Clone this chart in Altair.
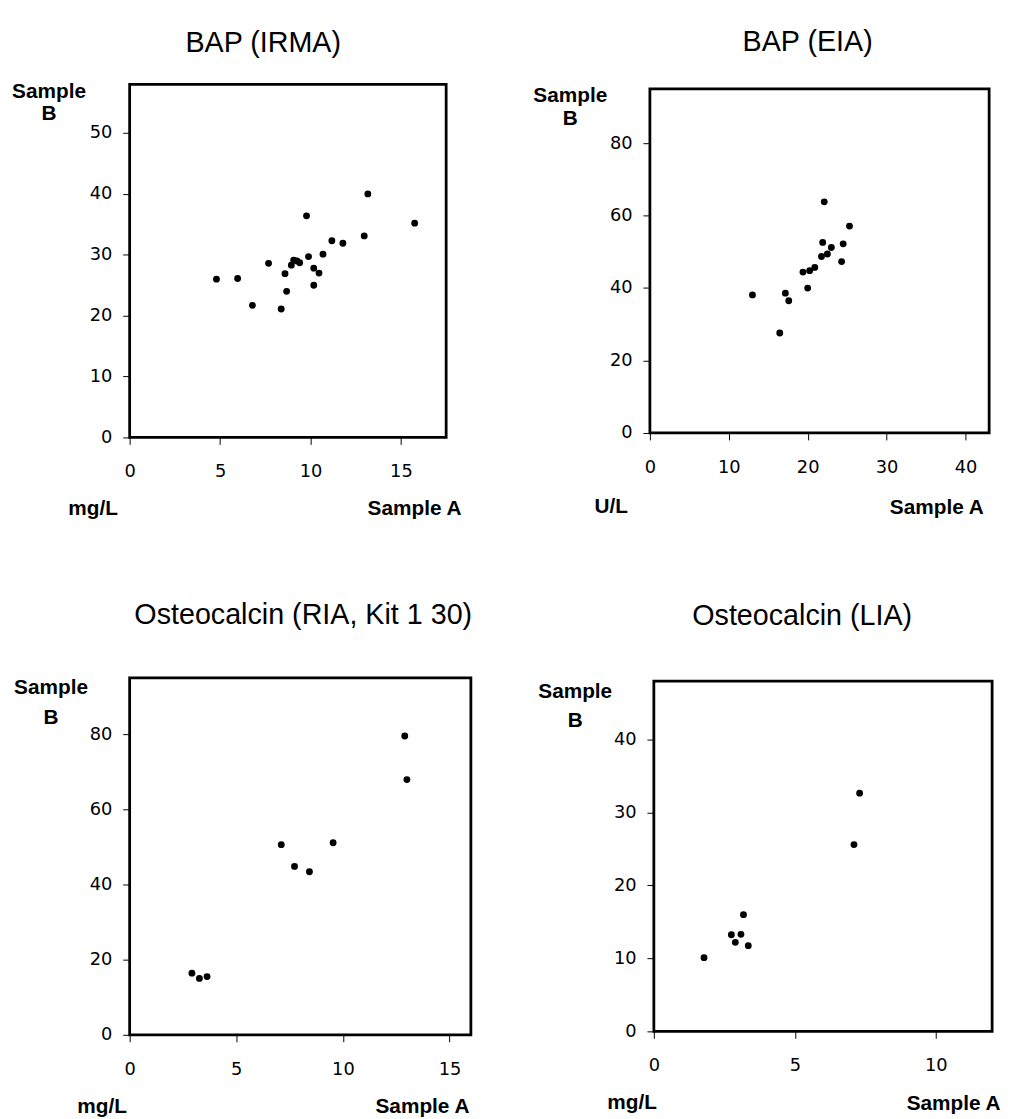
import altair as alt
import pandas as pd

# ---- data ----
irma_a = [4.8, 5.97, 6.79, 7.68, 8.38, 8.59, 8.68, 8.94, 9.07, 9.25, 9.4,
          9.78, 9.89, 10.18, 10.18, 10.47, 10.69, 11.18, 11.79, 12.97, 13.17, 15.76]
irma_b = [26.0, 26.1, 21.7, 28.6, 21.1, 26.9, 24.0, 28.3, 29.1, 29.0, 28.7,
          36.4, 29.7, 27.8, 25.0, 27.0, 30.1, 32.3, 31.9, 33.1, 40.0, 35.2]

eia_a = [13.0, 16.46, 17.17, 17.6, 19.4, 20.0, 20.25, 20.9, 21.75, 21.9,
         22.1, 22.5, 23.0, 24.3, 24.5, 25.3]
eia_b = [38.1, 27.6, 38.6, 36.5, 44.4, 40.0, 44.8, 45.7, 48.7, 52.6,
         63.8, 49.4, 51.2, 47.3, 52.2, 57.1]

ria_a = [2.92, 3.27, 3.63, 7.11, 7.73, 8.43, 9.54, 12.9, 13.0]
ria_b = [16.4, 15.0, 15.5, 50.6, 44.8, 43.4, 51.1, 79.5, 67.9]

lia_a = [1.78, 2.75, 2.89, 3.09, 3.18, 3.35, 7.1, 7.3]
lia_b = [10.1, 13.25, 12.2, 13.3, 16.0, 11.75, 25.6, 32.65]

titles = ["BAP (IRMA)", "BAP (EIA)", "Osteocalcin (RIA, Kit 1 30)", "Osteocalcin (LIA)"]
units = ["mg/L", "U/L", "mg/L", "mg/L"]
x_ticks = [[0, 5, 10, 15], [0, 10, 20, 30, 40], [0, 5, 10, 15], [0, 5, 10]]
y_ticks = [[0, 10, 20, 30, 40, 50], [0, 20, 40, 60, 80], [0, 20, 40, 60, 80], [0, 10, 20, 30, 40]]
x_max = [17.5, 43, 16, 12]
y_max = [58, 95, 95, 48]

TICK_FONT = "DejaVu Sans"
TEXT_FONT = "Liberation Sans"


def panel(i, a, b, w, h, title_dx, title_off, ytx, yty, ylh, unit_dx, xty, sa_dx):
    df = pd.DataFrame({"a": a, "b": b})
    pts = alt.Chart(df).mark_circle(size=48, color="black", opacity=1).encode(
        x=alt.X("a:Q",
                scale=alt.Scale(domain=[0, x_max[i]], nice=False, zero=True),
                axis=alt.Axis(values=x_ticks[i], title="Sample A",
                              titleX=w + sa_dx, titleY=xty, titleAlign="right",
                              titleAnchor="end", titleBaseline="alphabetic")),
        y=alt.Y("b:Q",
                scale=alt.Scale(domain=[0, y_max[i]], nice=False, zero=True),
                axis=alt.Axis(values=y_ticks[i], title=["Sample", "B"], titleAngle=0,
                              titleAlign="center", titleBaseline="top",
                              titleX=ytx, titleY=yty, titleLineHeight=ylh)),
    )
    unit_t = alt.Chart(pd.DataFrame({"u": [units[i]]})).mark_text(
        align="left", baseline="alphabetic", font=TEXT_FONT, fontSize=21,
        fontWeight="bold", color="black"
    ).encode(text="u:N", x=alt.value(unit_dx), y=alt.value(h + xty))
    return alt.layer(pts, unit_t).properties(
        width=w, height=h,
        title=alt.TitleParams(titles[i], font=TEXT_FONT, fontSize=29, fontWeight="normal",
                              color="black", anchor="middle", dx=title_dx,
                              offset=title_off, baseline="alphabetic", frame="group"),
    )


p1 = panel(0, irma_a, irma_b, 320, 357, -25, 0, -82, -4, 23, -62, 78, 15)
p2 = panel(1, eia_a, eia_b, 343, 348, -12, 5, -81, -4, 23, -56, 81, -6)
p3 = panel(2, ria_a, ria_b, 345, 361, 3, 24, -80, -1, 30, -53, 79, -2)
p4 = panel(3, lia_a, lia_b, 342, 354, -21, 27, -80, -1, 30, -47, 79, 8)

row1 = alt.hconcat(p1, p2, spacing=206, bounds="flush", center=True)
row2 = alt.hconcat(p3, p4, spacing=185, bounds="flush", center=True)

chart = alt.vconcat(row1, row2, spacing=80).properties(
    padding={"left": 2, "top": 13, "right": 0, "bottom": 0}
).configure_view(
    stroke="black", strokeWidth=2.8
).configure_axis(
    grid=False, domain=False,
    labelFont=TICK_FONT, labelFontSize=18, labelColor="black",
    labelFlush=False, labelOverlap=False,
    tickColor="black", tickSize=7, tickWidth=1,
    titleFont=TEXT_FONT, titleFontSize=21, titleFontWeight="bold", titleColor="black",
).configure_axisX(
    labelPadding=19
).configure_axisY(
    labelPadding=11
)

chart.save("out.html", embed_options={"renderer": "svg", "actions": False})
